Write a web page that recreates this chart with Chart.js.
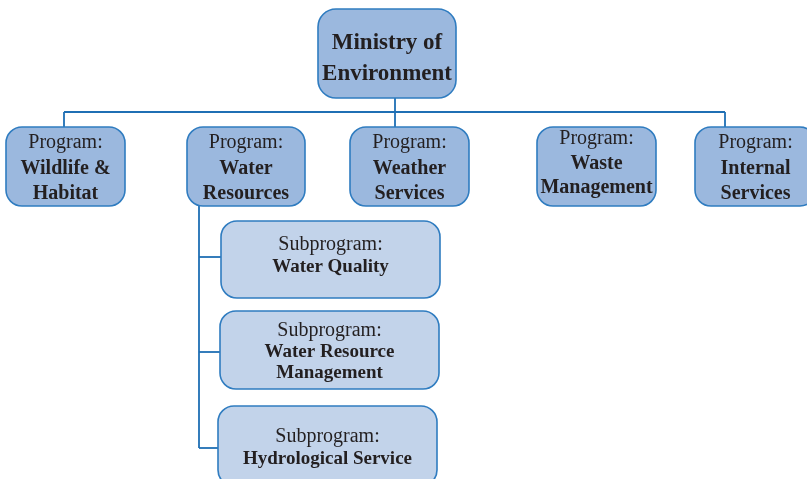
<!DOCTYPE html>
<html>
<head>
<meta charset="utf-8">
<script src="https://cdn.jsdelivr.net/npm/chart.js@4/dist/chart.umd.min.js"></script>
<style>
  html, body { margin: 0; padding: 0; background: #ffffff; }
  #wrap { width: 807px; height: 479px; position: relative; }
</style>
</head>
<body>
<div id="wrap"><canvas id="org"></canvas></div>
<script>
// org chart content
const ministry = ["Ministry of", "Environment"];
const programLabel = "Program:";
const programs = [
    ["Wildlife &", "Habitat"],
    ["Water", "Resources"],
    ["Weather", "Services"],
    ["Waste", "Management"],
    ["Internal", "Services"]
];
const subprogramLabel = "Subprogram:";
const subprograms = [
    ["Water Quality"],
    ["Water Resource", "Management"],
    ["Hydrological Service"]
];

// layout (page units, y grows downward)
const ministryBox = { x0: 318, y0: 9, x1: 456, y1: 98, textY: 43, gap: 31 };
const programBoxes = [
    { x0: 6, y0: 127, x1: 125, y1: 206, textY: 143, gap: 25.5 },
    { x0: 187, y0: 127, x1: 305, y1: 206, textY: 143, gap: 25.5 },
    { x0: 350, y0: 127, x1: 469, y1: 206, textY: 143, gap: 25.5 },
    { x0: 537, y0: 127, x1: 656, y1: 206, textY: 139, gap: 24.5 },
    { x0: 695, y0: 127, x1: 816, y1: 206, textY: 143, gap: 25.5 }
];
const subBoxes = [
    { x0: 221, y0: 221, x1: 440, y1: 298, textY: 245, gap: 22 },
    { x0: 220, y0: 311, x1: 439, y1: 389, textY: 331, gap: 21 },
    { x0: 218, y0: 406, x1: 437, y1: 486, textY: 437, gap: 22 }
];
const connectors = [
    [[395, 98], [395, 112]],
    [[64, 112], [725, 112]],
    [[64, 112], [64, 127]],
    [[395, 112], [395, 127]],
    [[725, 112], [725, 127]],
    [[199, 206], [199, 448]],
    [[199, 257], [221, 257]],
    [[199, 352], [220, 352]],
    [[199, 448], [218, 448]]
];

const lineColor = "#1f6fb4";
const edgeColor = "#2f7cc0";
const programFill = "#9bb8de";
const subFill = "#c2d3ea";
const textColor = "#231f20";
const serif = "'Liberation Serif', 'DejaVu Serif', serif";

const datasets = connectors.map(seg => ({
    type: "line",
    data: seg.map(p => ({ x: p[0], y: p[1] })),
    borderColor: lineColor,
    borderWidth: 1.8,
    pointRadius: 0,
    fill: false,
    tension: 0
}));

function drawBox(chart, box, fill, radius) {
    const ctx = chart.ctx;
    const sx = chart.scales.x, sy = chart.scales.y;
    const x0 = sx.getPixelForValue(box.x0), x1 = sx.getPixelForValue(box.x1);
    const y0 = sy.getPixelForValue(box.y0), y1 = sy.getPixelForValue(box.y1);
    ctx.beginPath();
    ctx.roundRect(x0, y0, x1 - x0, y1 - y0, radius);
    ctx.fillStyle = fill;
    ctx.fill();
    ctx.lineWidth = 1.6;
    ctx.strokeStyle = edgeColor;
    ctx.stroke();
}

function drawLines(chart, box, lines) {
    const ctx = chart.ctx;
    const sx = chart.scales.x, sy = chart.scales.y;
    const cx = sx.getPixelForValue((box.x0 + box.x1) / 2);
    ctx.fillStyle = textColor;
    ctx.textAlign = "center";
    ctx.textBaseline = "middle";
    lines.forEach((ln, i) => {
        ctx.font = ln.font;
        ctx.fillText(ln.text, cx, sy.getPixelForValue(box.textY + i * box.gap));
    });
}

const boxesPlugin = {
    id: "boxes",
    afterDatasetsDraw(chart) {
        const ctx = chart.ctx;
        ctx.save();
        drawBox(chart, ministryBox, programFill, 18);
        drawLines(chart, ministryBox, ministry.map(t => ({ text: t, font: "bold 23px " + serif })));

        programs.forEach((name, i) => {
            const box = programBoxes[i];
            drawBox(chart, box, programFill, 16);
            const lines = [{ text: programLabel, font: "20px " + serif }];
            name.forEach(t => lines.push({ text: t, font: "bold 20px " + serif }));
            drawLines(chart, box, lines);
        });

        subprograms.forEach((name, i) => {
            const box = subBoxes[i];
            drawBox(chart, box, subFill, 16);
            const lines = [{ text: subprogramLabel, font: "20px " + serif }];
            name.forEach(t => lines.push({ text: t, font: "bold 19px " + serif }));
            drawLines(chart, box, lines);
        });
        ctx.restore();
    }
};

new Chart(document.getElementById("org"), {
    type: "scatter",
    data: { datasets: datasets },
    options: {
        responsive: true,
        maintainAspectRatio: false,
        animation: false,
        layout: { padding: 0 },
        plugins: { legend: { display: false }, tooltip: { enabled: false } },
        scales: {
            x: { type: "linear", min: 0, max: 807, display: false },
            y: { type: "linear", min: 0, max: 479, reverse: true, display: false }
        }
    },
    plugins: [boxesPlugin]
});
</script>
</body>
</html>
